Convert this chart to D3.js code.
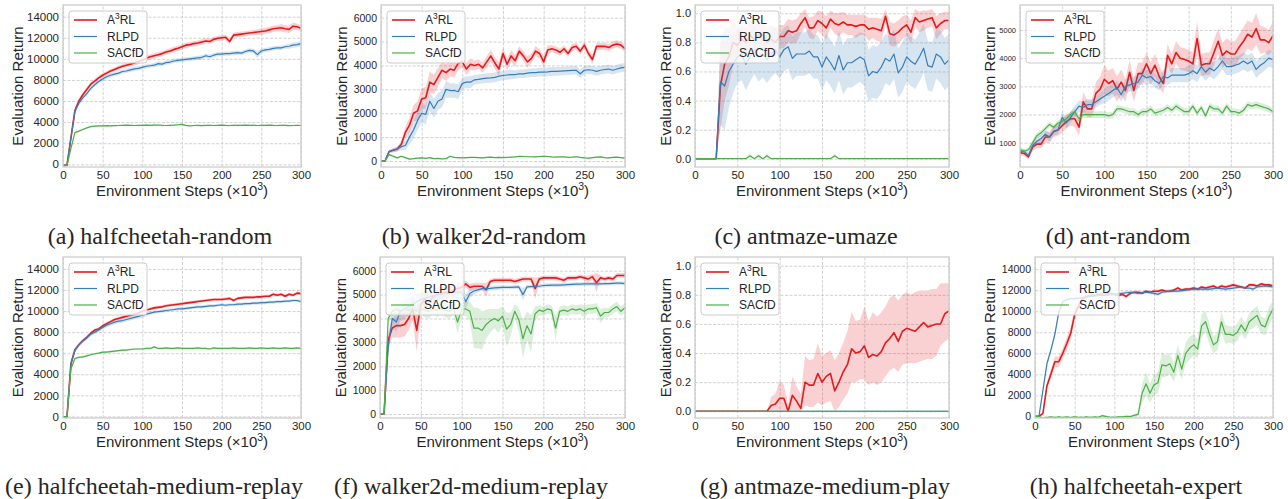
<!DOCTYPE html>
<html>
<head>
<meta charset="utf-8">
<script src="https://cdn.jsdelivr.net/npm/d3@7"></script>
<style>
body { margin: 0; background: #fff; }
text { fill: #262626; }
</style>
</head>
<body>
<div id="fig"></div>
<script>
// x positions of every evaluation (x10^3 env steps)
var steps = [0,5,10,15,20,25,30,35,40,45,50,55,60,65,70,75,80,85,90,95,100,105,110,115,120,125,130,135,140,145,150,155,160,165,170,175,180,185,190,195,200,205,210,215,220,225,230,235,240,245,250,255,260,265,270,275,280,285,290,295,300];

var stepTicks = [0,50,100,150,200,250,300];
var ticks14k = [0,2000,4000,6000,8000,10000,12000,14000];
var ticks6k = [0,1000,2000,3000,4000,5000,6000];
var ticksFrac = [0,0.2,0.4,0.6,0.8,1.0];
var ticksAnt = [1000,2000,3000,4000,5000];

var methods = ['A3RL','RLPD','SACfD'];

var flatZero = [0,0,0,0,0,0,0,0,0,0,0,0,0,0,0,0,0,0,0,0,0,0,0,0,0,0,0,0,0,0,0,0,0,0,0,0,0,0,0,0,0,0,0,0,0,0,0,0,0,0,0,0,0,0,0,0,0,0,0,0,0];

// (a) halfcheetah-random
var hcRand_A3RL = [-100,-100,2500,5100,6000,6600,7100,7600,7900,8200,8450,8650,8850,9000,9150,9300,9400,9500,9600,9750,9900,10050,10200,10300,10400,10500,10650,10750,10900,11000,11150,11300,11350,11450,11500,11600,11700,11650,11850,11950,12000,12050,11650,12250,12300,12350,12400,12450,12500,12550,12600,12650,12750,12850,12900,12950,12850,12800,13100,13050,12900];
var hcRand_A3RL_sd = [0,0,300,250,250,200,200,200,200,200,200,200,200,200,200,200,200,200,200,250,250,250,250,250,250,250,250,250,250,250,250,250,250,250,250,250,250,250,250,250,250,250,300,250,250,250,250,250,250,250,300,300,300,300,300,350,350,350,350,300,300];
var hcRand_RLPD = [-100,-100,2500,5000,5800,6300,6700,7200,7550,7850,8100,8300,8450,8550,8650,8800,8850,8950,9050,9100,9200,9300,9350,9400,9550,9500,9650,9700,9800,9850,9900,9950,10000,10050,10100,10150,10300,10200,10350,10450,10450,10500,10500,10550,10600,10550,10700,10800,10750,10400,10750,10850,10900,11000,11050,11050,11150,11200,11300,11350,11450];
var hcRand_RLPD_sd = [0,0,300,250,250,200,200,200,200,200,200,200,200,200,200,200,200,200,200,200,200,200,200,200,250,200,200,200,200,200,200,200,200,200,200,200,200,200,200,200,200,200,200,200,200,200,200,200,200,350,200,200,200,200,200,200,200,250,250,250,250];
var hcRand_SACfD = [-100,-100,1500,3000,3150,3300,3450,3580,3620,3640,3650,3660,3650,3670,3680,3700,3720,3700,3680,3700,3690,3710,3700,3720,3730,3700,3680,3700,3720,3750,3780,3700,3650,3680,3700,3670,3690,3700,3680,3700,3720,3690,3680,3700,3690,3700,3710,3690,3700,3680,3690,3700,3710,3690,3680,3700,3690,3670,3680,3690,3680];
var hcRand_SACfD_sd = [0,0,200,100,100,80,80,80,80,80,80,80,80,80,80,80,80,80,80,80,80,80,80,80,80,80,80,80,80,80,80,80,80,80,80,80,80,80,80,80,80,80,80,80,80,80,80,80,80,80,80,80,80,80,80,80,80,80,80,80,80];

// (b) walker2d-random
var wkRand_A3RL = [0,0,400,450,500,700,1200,1500,2000,2100,2600,2650,3300,3200,3500,3800,3700,3850,3800,4100,4150,3850,4050,4000,4050,3900,4150,4400,4100,3850,4500,4050,4400,4200,4600,4400,4150,4300,4600,4500,4150,4650,4700,4650,4550,4700,4500,4750,4800,4600,4850,4500,4250,4800,4800,4800,4750,4850,4900,4850,4700];
var wkRand_A3RL_sd = [0,0,50,80,100,150,250,300,350,400,450,450,450,400,400,350,350,300,300,300,250,250,250,200,200,200,250,250,250,300,250,250,250,250,200,200,250,200,200,200,250,200,150,150,150,150,150,150,150,150,150,150,200,150,150,150,150,150,150,150,150];
var wkRand_RLPD = [0,0,400,450,500,600,650,1000,1300,1700,2000,1950,2500,2200,2500,2600,3000,2950,2950,2900,3250,3300,3300,3400,3420,3450,3470,3480,3500,3550,3580,3600,3620,3620,3650,3650,3680,3700,3700,3720,3720,3730,3750,3750,3760,3770,3780,3790,3800,3650,3800,3820,3800,3750,3800,3830,3850,3800,3850,3900,3920];
var wkRand_RLPD_sd = [0,0,50,80,100,150,200,300,350,400,400,400,400,400,350,350,350,300,300,300,250,250,250,200,200,200,200,200,200,200,200,200,200,180,180,180,180,180,180,180,180,180,180,180,180,180,180,180,180,180,180,180,180,180,180,180,180,180,180,180,180];
var wkRand_SACfD = [0,0,270,200,130,200,140,80,100,120,130,110,140,100,110,90,100,200,150,140,130,140,150,150,140,130,150,160,140,150,140,150,160,170,200,190,180,180,170,190,200,190,170,160,180,170,150,160,180,150,130,120,140,160,170,140,130,150,160,140,120];
var wkRand_SACfD_sd = [0,0,50,50,40,40,40,30,30,30,30,30,30,30,30,30,30,30,30,30,30,30,30,30,30,30,30,30,30,30,30,30,30,30,30,30,30,30,30,30,30,30,30,30,30,30,30,30,30,30,30,30,30,30,30,30,30,30,30,30,30];

// (c) antmaze-umaze
var amUmaze_A3RL = [0,0,0,0,0,0,0.5,0.65,0.7,0.8,0.78,0.82,0.8,0.85,0.82,0.85,0.85,0.8,0.82,0.8,0.84,0.84,0.88,0.87,0.88,0.93,0.97,0.9,0.9,0.95,0.93,0.9,0.96,0.93,0.92,0.94,0.92,0.92,0.91,0.92,0.92,0.89,0.9,0.89,0.88,0.98,0.86,0.85,0.87,0.9,0.92,0.87,0.97,0.94,0.95,0.96,0.97,0.9,0.93,0.95,0.95];
var amUmaze_A3RL_sd = [0,0,0,0,0,0,0.3,0.25,0.2,0.15,0.12,0.1,0.1,0.1,0.1,0.1,0.1,0.1,0.1,0.1,0.08,0.08,0.08,0.08,0.08,0.07,0.06,0.07,0.08,0.07,0.08,0.08,0.06,0.07,0.08,0.07,0.07,0.07,0.08,0.07,0.07,0.08,0.07,0.08,0.08,0.05,0.08,0.08,0.08,0.08,0.07,0.08,0.06,0.07,0.07,0.06,0.06,0.08,0.07,0.06,0.06];
var amUmaze_RLPD = [0,0,0,0,0,0,0.53,0.5,0.6,0.65,0.7,0.72,0.65,0.7,0.75,0.7,0.72,0.68,0.72,0.75,0.7,0.75,0.77,0.69,0.72,0.72,0.72,0.74,0.7,0.7,0.63,0.7,0.66,0.61,0.71,0.61,0.66,0.66,0.68,0.7,0.68,0.57,0.6,0.59,0.63,0.69,0.67,0.72,0.59,0.63,0.7,0.67,0.65,0.7,0.76,0.64,0.63,0.72,0.7,0.65,0.68];
var amUmaze_RLPD_sd = [0,0,0,0,0,0,0.3,0.3,0.25,0.2,0.18,0.18,0.18,0.17,0.17,0.17,0.16,0.16,0.16,0.16,0.15,0.15,0.15,0.15,0.15,0.15,0.15,0.15,0.15,0.15,0.16,0.16,0.16,0.16,0.17,0.17,0.17,0.17,0.17,0.17,0.18,0.18,0.18,0.18,0.18,0.17,0.17,0.17,0.17,0.17,0.17,0.17,0.17,0.17,0.17,0.17,0.17,0.17,0.18,0.18,0.18];
var amUmaze_SACfD = [0,0,0,0,0,0,0,0,0,0,0,0,0,0.02,0,0.02,0,0.02,0,0,0,0,0,0,0,0,0,0,0,0,0,0,0,0.02,0,0,0,0,0,0,0,0,0,0,0,0,0,0,0,0,0,0,0,0,0,0,0,0,0,0,0];
var amUmaze_SACfD_sd = [0,0,0,0,0,0,0,0,0,0,0,0,0,0.015,0,0.015,0,0.015,0,0,0,0,0,0,0,0,0,0,0,0,0,0,0,0.015,0,0,0,0,0,0,0,0,0,0,0,0,0,0,0,0,0,0,0,0,0,0,0,0,0,0,0];

// (d) ant-random
var antRand_A3RL = [650,620,500,850,950,950,1200,1200,1400,1450,1600,1750,1850,1850,1550,2450,2200,2200,2750,2900,3250,3100,3200,2900,3150,2850,3500,2850,3450,3450,3800,3450,3750,3350,3100,4100,3800,4200,4000,3950,3900,3800,4700,3750,3800,3800,4200,4600,4100,4250,4150,4150,4400,4600,4850,4750,5050,4650,4650,4550,4800];
var antRand_A3RL_sd = [100,100,100,150,150,150,200,200,200,200,250,250,250,300,300,350,300,300,400,450,500,450,450,450,450,400,450,400,400,400,400,400,400,400,350,400,350,400,400,400,400,400,600,400,400,400,450,450,450,450,450,450,450,500,500,500,550,500,450,450,500];
var antRand_RLPD = [700,680,550,900,1050,1150,1300,1200,1400,1450,1900,1700,1900,2100,2300,2250,2350,2350,2450,2550,2650,2750,2850,2950,2700,3000,3050,3100,3150,3400,3300,3350,3200,3100,3350,3300,3400,3400,3400,3400,3450,3550,3450,3700,3500,3650,3550,3700,3900,3700,3700,3750,3800,3900,3800,3900,3600,3750,3850,4000,3950];
var antRand_RLPD_sd = [100,100,100,150,150,150,150,150,150,150,200,200,200,200,200,200,200,200,200,200,250,250,250,250,250,250,250,250,250,250,250,250,250,250,250,250,250,250,250,250,300,300,300,300,300,300,300,300,300,300,300,300,300,300,300,300,300,300,300,300,300];
var antRand_SACfD = [750,700,750,1000,1250,1350,1500,1650,1550,1700,1750,1850,2000,2100,1850,2000,2000,2000,2000,2000,2000,1950,2000,2200,2200,2150,2100,2100,2000,2100,2100,2200,2050,2100,2150,2250,2150,2300,2200,2100,2100,2300,2050,2250,1950,2300,2200,2200,2050,2300,2100,2100,2050,2150,2350,2300,2350,2300,2250,2200,2100];
var antRand_SACfD_sd = [80,80,80,100,100,100,100,100,100,100,100,100,100,120,120,120,120,120,120,120,120,120,120,120,120,120,120,120,120,120,120,120,120,120,120,120,120,120,120,120,120,120,120,120,120,120,120,120,120,120,120,120,120,120,120,120,120,120,120,120,120];

// (e) halfcheetah-medium-replay
var hcMedRep_A3RL = [-50,-50,5000,6300,6800,7200,7500,7900,8200,8300,8600,8800,9000,9200,9300,9400,9500,9600,9700,9800,10000,10100,10200,10300,10350,10400,10500,10550,10600,10650,10700,10750,10800,10850,10900,10950,11000,11050,11100,11100,11100,11150,11200,11000,11200,11250,11300,11300,11300,11350,11350,11400,11400,11600,11500,11600,11400,11600,11500,11700,11650];
var hcMedRep_A3RL_sd = [0,0,300,200,150,150,150,150,150,150,150,150,150,150,150,150,150,150,150,150,150,150,150,150,150,150,150,150,150,150,150,150,150,150,150,150,150,150,150,150,150,150,150,150,150,150,150,150,150,150,150,150,150,150,150,150,150,150,150,150,150];
var hcMedRep_RLPD = [-50,-50,5000,6300,6800,7150,7450,7800,8000,8200,8450,8650,8800,8950,9050,9100,9200,9300,9400,9500,9600,9700,9800,9900,9950,10000,10050,10100,10150,10200,10200,10250,10300,10350,10400,10400,10450,10500,10500,10550,10600,10550,10600,10600,10650,10650,10700,10700,10750,10750,10800,10800,10850,10850,10900,10900,10950,10950,11000,11000,10900];
var hcMedRep_RLPD_sd = [0,0,300,200,200,200,200,200,200,200,200,200,200,200,200,200,200,200,200,200,200,200,150,150,150,150,150,150,150,150,150,150,150,150,150,150,150,150,150,150,150,150,150,150,150,150,150,150,150,150,150,150,150,150,150,150,150,150,150,150,150];
var hcMedRep_SACfD = [-50,-50,4500,5500,5600,5650,5750,5850,5950,6000,6100,6100,6150,6200,6250,6300,6300,6350,6400,6400,6400,6450,6450,6600,6450,6450,6500,6450,6450,6500,6450,6450,6450,6450,6500,6450,6450,6400,6500,6450,6450,6450,6450,6500,6450,6450,6450,6500,6450,6450,6500,6450,6450,6500,6450,6450,6500,6450,6450,6500,6450];
var hcMedRep_SACfD_sd = [0,0,200,150,100,100,100,100,100,100,100,100,100,100,100,100,100,100,100,100,100,100,100,100,100,100,100,100,100,100,100,100,100,100,100,100,100,100,100,100,100,100,100,100,100,100,100,100,100,100,100,100,100,100,100,100,100,100,100,100,100];

// (f) walker2d-medium-replay
var wkMedRep_A3RL = [0,0,3100,3600,3700,3700,3750,4000,4400,3500,4600,4800,4700,4900,5000,5050,5100,5100,5200,5250,5300,5450,5300,5350,5350,5350,5200,5550,5600,5600,5600,5600,5600,5550,5600,5650,5650,5650,5250,5650,5700,5700,5700,5700,5650,5600,5700,5700,5700,5750,5700,5650,5750,5500,5700,5650,5700,5650,5800,5800,5800];
var wkMedRep_A3RL_sd = [0,0,300,400,500,500,500,500,500,900,400,300,300,300,300,250,250,250,250,250,200,150,150,150,150,150,300,100,100,100,100,100,100,100,100,100,100,100,450,100,100,100,100,100,100,100,100,100,100,100,100,150,100,400,100,100,100,100,100,100,100];
var wkMedRep_RLPD = [0,0,2800,4000,3850,4300,4400,4500,4600,4700,4800,4850,4900,4950,5000,5000,5050,5050,5100,5100,5100,4700,5050,5150,5200,5250,5250,5260,5280,5290,5300,5300,5300,5310,5320,5000,5320,5330,5340,5350,5380,5390,5400,5400,5400,5410,5420,5430,5440,5440,5450,5450,5450,5450,5450,5460,5460,5470,5480,5480,5460];
var wkMedRep_RLPD_sd = [0,0,300,400,400,400,400,350,350,350,300,300,300,300,300,250,250,250,250,250,250,300,200,150,100,100,100,100,100,100,80,80,80,80,80,250,80,80,80,80,80,80,80,80,80,80,80,80,80,80,80,80,80,80,80,80,80,80,80,80,80];
var wkMedRep_SACfD = [0,0,4000,4300,4400,4300,4400,4350,4400,4300,4400,4350,4300,4400,4350,4400,4350,4300,4400,3850,4400,4400,4300,3600,3600,3500,3750,3900,4000,3900,4100,3550,3750,4300,3950,3150,3700,3350,4200,4350,4300,4400,4350,3600,4300,4350,4300,4400,4350,4400,4300,4400,4400,4450,4100,4250,4250,4400,4500,4300,4450];
var wkMedRep_SACfD_sd = [0,0,200,200,200,200,200,300,200,300,200,300,300,200,300,200,300,300,200,500,300,300,400,850,850,800,600,500,400,500,400,700,500,300,500,800,600,800,300,200,200,200,200,500,200,200,200,200,200,200,250,200,200,200,300,200,200,200,200,200,200];

// (g) antmaze-medium-play
var amMedPlay_A3RL = [0,0,0,0,0,0,0,0,0,0,0,0,0,0,0,0,0,0,0.04,0.05,0.09,0.09,0.0,0.11,0.07,0.02,0.2,0.18,0.18,0.26,0.2,0.24,0.26,0.14,0.2,0.27,0.32,0.43,0.4,0.41,0.45,0.37,0.39,0.38,0.41,0.47,0.5,0.54,0.48,0.55,0.57,0.56,0.55,0.58,0.61,0.58,0.59,0.6,0.6,0.67,0.69];
var amMedPlay_A3RL_hi = [0,0,0,0,0,0,0,0,0,0,0,0,0,0,0,0,0,0,0.1,0.12,0.21,0.18,0.05,0.24,0.17,0.12,0.38,0.35,0.36,0.47,0.38,0.4,0.42,0.35,0.4,0.47,0.55,0.68,0.62,0.63,0.72,0.62,0.68,0.65,0.68,0.72,0.78,0.8,0.76,0.8,0.82,0.8,0.82,0.83,0.83,0.83,0.84,0.84,0.88,0.88,0.88];
var amMedPlay_A3RL_lo = [0,0,0,0,0,0,0,0,0,0,0,0,0,0,0,0,0,0,0,0,0,0,0,0,0,0,0.04,0.03,0.03,0.06,0.04,0.06,0.07,0,0.03,0.08,0.12,0.2,0.2,0.22,0.22,0.18,0.2,0.18,0.2,0.24,0.28,0.3,0.27,0.32,0.33,0.33,0.33,0.34,0.35,0.36,0.36,0.38,0.45,0.48,0.5];
var amMedPlay_RLPD = flatZero;
var amMedPlay_SACfD = flatZero;

// (h) halfcheetah-expert
var hcExpert_A3RL = [0,0,300,2900,4000,5200,5200,6000,6900,7900,9700,10500,11200,11400,11500,11500,11600,11600,11600,11700,11600,11500,11600,11400,11700,11800,11800,11700,11900,11800,11900,11900,12000,11900,11900,12000,12200,12000,12100,12100,12200,12100,12300,12200,12300,12400,12200,12400,12300,12400,12500,12400,12300,12200,12500,12500,12400,12600,12500,12500,12400];
var hcExpert_A3RL_sd = [0,0,100,300,400,500,500,500,600,600,500,300,200,150,150,150,150,150,150,150,150,150,150,150,150,150,150,150,150,150,150,150,150,150,150,150,150,150,150,150,150,150,150,150,150,150,150,150,150,150,150,150,150,150,150,150,150,150,150,150,150];
var hcExpert_RLPD = [0,0,2500,5000,6300,7800,9900,10900,11100,11200,11200,11250,11300,11350,11400,11450,11500,11500,11500,11550,11600,11650,11700,11750,11800,11750,11700,11750,11800,11750,11700,11600,11800,11850,11900,11900,11900,11950,12000,12050,12100,12100,12100,12100,12100,12150,12200,12150,12100,12150,12200,12250,12300,12200,12200,12100,12300,12350,12400,12350,12300];
var hcExpert_RLPD_sd = [0,0,200,300,300,300,300,200,150,150,150,150,150,150,150,150,150,150,150,150,150,150,150,150,150,150,150,150,150,150,150,150,150,150,150,150,150,150,150,150,150,150,150,150,150,150,150,150,150,150,150,150,150,150,150,150,150,150,150,150,150];
var hcExpert_SACfD = [0,0,-200,-100,-50,-100,-50,-100,-50,-100,-50,-100,-100,-50,-100,-50,-80,80,-20,-80,-100,-50,-50,0,-20,100,200,2200,3100,2200,3000,3200,4900,4800,5000,4200,5800,4500,6000,6500,6800,6400,8600,9000,7800,6800,7100,9000,7800,7800,7700,8000,8700,8100,9000,9300,9600,8700,8500,9500,10200];
var hcExpert_SACfD_sd = [0,0,100,100,100,100,100,100,100,100,100,100,100,100,100,100,100,100,100,100,100,100,100,100,100,100,200,900,1100,900,1000,1000,1200,1000,1000,900,1000,1000,1000,1100,1000,900,1100,1000,1000,800,800,1000,900,800,800,800,800,800,800,900,900,800,800,900,800];

var colors = { A3RL: '#e41a1c', RLPD: '#377eb8', SACfD: '#4daf4a' };
var lineWidths = { A3RL: 1.6, RLPD: 1.2, SACfD: 1.2 };

var svgWidth = 1288;
var svgHeight = 499;

var svg = d3.select('#fig')
    .append('svg')
    .attr('width', svgWidth)
    .attr('height', svgHeight)
    .style('font-family', '"Liberation Sans", Arial, sans-serif');

var panels = [
    { id: 'a', caption: '(a) halfcheetah-random', capX: 160, x: 63, y: 5, w: 238, h: 162,
      yDomain: [-256, 15110], yTicks: ticks14k, yFmt: d3.format('d'), yFont: 11.5, ylabX: 23,
      series: { A3RL: [hcRand_A3RL, hcRand_A3RL_sd], RLPD: [hcRand_RLPD, hcRand_RLPD_sd], SACfD: [hcRand_SACfD, hcRand_SACfD_sd] } },
    { id: 'b', caption: '(b) walker2d-random', capX: 484, x: 381, y: 5, w: 244, h: 162,
      yDomain: [-250, 6530], yTicks: ticks6k, yFmt: d3.format('d'), yFont: 10.5, ylabX: 347,
      series: { A3RL: [wkRand_A3RL, wkRand_A3RL_sd], RLPD: [wkRand_RLPD, wkRand_RLPD_sd], SACfD: [wkRand_SACfD, wkRand_SACfD_sd] } },
    { id: 'c', caption: '(c) antmaze-umaze', capX: 806, x: 695, y: 5, w: 254, h: 162,
      yDomain: [-0.057, 1.057], yTicks: ticksFrac, yFmt: d3.format('.1f'), yFont: 11, ylabX: 671,
      series: { A3RL: [amUmaze_A3RL, amUmaze_A3RL_sd], RLPD: [amUmaze_RLPD, amUmaze_RLPD_sd], SACfD: [amUmaze_SACfD, amUmaze_SACfD_sd] } },
    { id: 'd', caption: '(d) ant-random', capX: 1118, x: 1020, y: 5, w: 253, h: 162,
      yDomain: [138, 5887], yTicks: ticksAnt, yFmt: d3.format('d'), yFont: 7.5, ylabX: 995,
      series: { A3RL: [antRand_A3RL, antRand_A3RL_sd], RLPD: [antRand_RLPD, antRand_RLPD_sd], SACfD: [antRand_SACfD, antRand_SACfD_sd] } },
    { id: 'e', caption: '(e) halfcheetah-medium-replay', capX: 154, x: 63, y: 257, w: 238, h: 161,
      yDomain: [-150, 15130], yTicks: ticks14k, yFmt: d3.format('d'), yFont: 11.5, ylabX: 23,
      series: { A3RL: [hcMedRep_A3RL, hcMedRep_A3RL_sd], RLPD: [hcMedRep_RLPD, hcMedRep_RLPD_sd], SACfD: [hcMedRep_SACfD, hcMedRep_SACfD_sd] } },
    { id: 'f', caption: '(f) walker2d-medium-replay', capX: 471, x: 380, y: 257, w: 245, h: 161,
      yDomain: [-167, 6574], yTicks: ticks6k, yFmt: d3.format('d'), yFont: 10.5, ylabX: 346,
      series: { A3RL: [wkMedRep_A3RL, wkMedRep_A3RL_sd], RLPD: [wkMedRep_RLPD, wkMedRep_RLPD_sd], SACfD: [wkMedRep_SACfD, wkMedRep_SACfD_sd] } },
    { id: 'g', caption: '(g) antmaze-medium-play', capX: 825, x: 695, y: 257, w: 254, h: 161,
      yDomain: [-0.046, 1.06], yTicks: ticksFrac, yFmt: d3.format('.1f'), yFont: 11, ylabX: 671,
      series: { A3RL: [amMedPlay_A3RL, null, amMedPlay_A3RL_lo, amMedPlay_A3RL_hi], RLPD: [amMedPlay_RLPD, flatZero], SACfD: [amMedPlay_SACfD, flatZero] } },
    { id: 'h', caption: '(h) halfcheetah-expert', capX: 1136, x: 1035, y: 257, w: 238, h: 161,
      yDomain: [-150, 15150], yTicks: ticks14k, yFmt: d3.format('d'), yFont: 10.5, ylabX: 995,
      series: { A3RL: [hcExpert_A3RL, hcExpert_A3RL_sd], RLPD: [hcExpert_RLPD, hcExpert_RLPD_sd], SACfD: [hcExpert_SACfD, hcExpert_SACfD_sd] } }
];

// superscript helper: base text + sup + tail
function supText(sel, base, sup, tail, size) {
    sel.append('tspan').text(base);
    sel.append('tspan').attr('dy', -size * 0.42).style('font-size', (size * 0.7) + 'px').text(sup);
    sel.append('tspan').attr('dy', size * 0.42).style('font-size', size + 'px').text(tail);
}

panels.forEach(function(p) {
    var g = svg.append('g');

    var xScale = d3.scaleLinear().domain([0, 300]).range([p.x, p.x + p.w]);
    var yScale = d3.scaleLinear().domain(p.yDomain).range([p.y + p.h, p.y]);

    svg.append('clipPath').attr('id', 'clip-' + p.id)
        .append('rect')
        .attr('x', p.x).attr('y', p.y).attr('width', p.w).attr('height', p.h);

    // grid
    var gx = g.append('g')
        .attr('transform', `translate(0,${p.y + p.h})`)
        .call(d3.axisBottom(xScale).tickValues(stepTicks).tickSize(-p.h).tickFormat(''));
    var gy = g.append('g')
        .attr('transform', `translate(${p.x},0)`)
        .call(d3.axisLeft(yScale).tickValues(p.yTicks).tickSize(-p.w).tickFormat(''));
    [gx, gy].forEach(function(a) {
        a.select('.domain').remove();
        a.selectAll('line')
            .attr('stroke', '#cdcdcd')
            .attr('stroke-width', 0.9)
            .attr('stroke-dasharray', '3,1.5');
    });

    // curves
    var plot = g.append('g').attr('clip-path', `url(#clip-${p.id})`);
    methods.forEach(function(m) {
        var s = p.series[m];
        var rows = steps.map(function(st, i) {
            var mean = s[0][i];
            var lo, hi;
            if (s[2]) { lo = s[2][i]; hi = s[3][i]; }
            else { lo = mean - s[1][i]; hi = mean + s[1][i]; }
            return { step: st, mean: mean, lo: lo, hi: hi };
        });

        var area = d3.area()
            .x(d => xScale(d.step))
            .y0(d => yScale(d.lo))
            .y1(d => yScale(d.hi));
        var line = d3.line()
            .x(d => xScale(d.step))
            .y(d => yScale(d.mean));

        plot.append('path')
            .datum(rows)
            .attr('d', area)
            .attr('fill', colors[m])
            .attr('fill-opacity', 0.2)
            .attr('stroke', 'none');
        plot.append('path')
            .datum(rows)
            .attr('d', line)
            .attr('fill', 'none')
            .attr('stroke', colors[m])
            .attr('stroke-width', lineWidths[m])
            .attr('stroke-linejoin', 'round');
    });

    // frame
    g.append('rect')
        .attr('x', p.x).attr('y', p.y).attr('width', p.w).attr('height', p.h)
        .attr('fill', 'none')
        .attr('stroke', '#cccccc')
        .attr('stroke-width', 1.3);

    // tick labels
    var bottomAxis = g.append('g')
        .attr('transform', `translate(0,${p.y + p.h})`)
        .call(d3.axisBottom(xScale).tickValues(stepTicks).tickSize(0).tickPadding(4));
    bottomAxis.select('.domain').remove();
    bottomAxis.selectAll('text')
        .style('font-size', '11.5px')
        .style('font-family', '"Liberation Sans", Arial, sans-serif')
        .attr('fill', '#262626');

    var leftAxis = g.append('g')
        .attr('transform', `translate(${p.x},0)`)
        .call(d3.axisLeft(yScale).tickValues(p.yTicks).tickFormat(p.yFmt).tickSize(0).tickPadding(4));
    leftAxis.select('.domain').remove();
    leftAxis.selectAll('text')
        .style('font-size', p.yFont + 'px')
        .style('font-family', '"Liberation Sans", Arial, sans-serif')
        .attr('fill', '#262626');

    // axis labels
    var xl = g.append('text')
        .attr('x', p.x + p.w / 2)
        .attr('y', p.y + p.h + 29)
        .attr('text-anchor', 'middle')
        .style('font-size', '15px');
    supText(xl, 'Environment Steps (\u00d710', '3', ')', 15);

    g.append('text')
        .attr('transform', `translate(${p.ylabX},${p.y + p.h / 2}) rotate(-90)`)
        .attr('text-anchor', 'middle')
        .style('font-size', '15px')
        .text('Evaluation Return');

    // legend
    var lx = p.x + 6, ly = p.y + 6;
    var leg = g.append('g');
    leg.append('rect')
        .attr('x', lx).attr('y', ly)
        .attr('width', 78).attr('height', 52)
        .attr('rx', 3)
        .attr('fill', '#ffffff')
        .attr('fill-opacity', 0.8)
        .attr('stroke', '#cccccc')
        .attr('stroke-width', 1);
    methods.forEach(function(m, i) {
        var ry = ly + 9 + i * 16.5;
        leg.append('line')
            .attr('x1', lx + 5).attr('x2', lx + 28)
            .attr('y1', ry).attr('y2', ry)
            .attr('stroke', colors[m])
            .attr('stroke-width', lineWidths[m]);
        var t = leg.append('text')
            .attr('x', lx + 38)
            .attr('y', ry + 4.3)
            .style('font-size', '12px');
        if (m === 'A3RL') supText(t, 'A', '3', 'RL', 12);
        else t.text(m);
    });

    // caption
    svg.append('text')
        .attr('x', p.capX)
        .attr('y', p.y < 100 ? 244 : 494)
        .attr('text-anchor', 'middle')
        .style('font-family', '"Liberation Serif", "Times New Roman", serif')
        .style('font-size', '24px')
        .attr('fill', '#000')
        .text(p.caption);
});
</script>
</body>
</html>
